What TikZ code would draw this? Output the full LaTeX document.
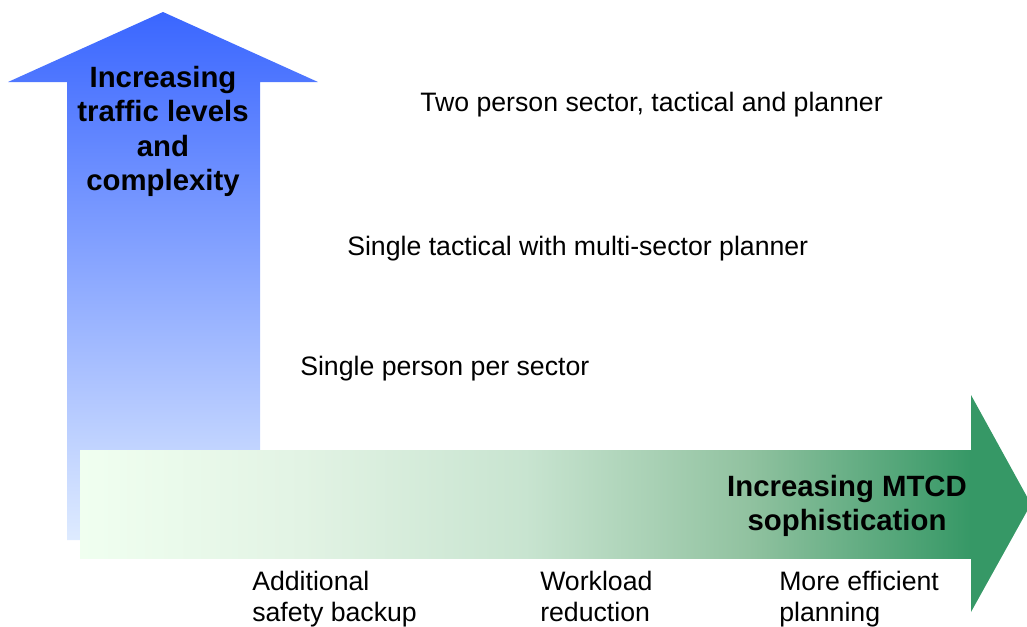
\documentclass[tikz,border=0pt]{standalone}
\usepackage{fontspec}
\setmainfont{Liberation Sans}
\begin{document}
\definecolor{bluetop}{RGB}{58,102,255}
\definecolor{bluebot}{RGB}{222,235,255}
\definecolor{greenA}{RGB}{240,255,240}
\definecolor{greenB}{RGB}{226,243,228}
\definecolor{greenC}{RGB}{200,228,208}
\definecolor{greenD}{RGB}{145,194,160}
\definecolor{greendark}{RGB}{54,152,102}
% light-to-dark green ramp along the shaft
\pgfdeclarehorizontalshading{greenramp}{100bp}{%
  color(0bp)=(greenA); color(25bp)=(greenA); color(37.5bp)=(greenB);
  color(50bp)=(greenC); color(62.5bp)=(greenD); color(75bp)=(greendark);
  color(100bp)=(greendark)}
\begin{tikzpicture}[x=0.75pt,y=-0.75pt,
  bodytext/.style={inner sep=0pt,font=\fontsize{20}{23.25}\selectfont,align=left},
  boldtext/.style={inner sep=0pt,font=\bfseries\fontsize{22}{25.8}\selectfont,align=center}]
  \useasboundingbox (0,0) rectangle (1027,626);
  % vertical arrow: traffic levels
  \shade[top color=bluetop,bottom color=bluebot]
    (163,12) -- (318,82) -- (260,82) -- (260,540) -- (67,540) -- (67,82) -- (8,82) -- cycle;
  % horizontal arrow: MTCD sophistication
  \shade[shading=greenramp] (80,450) rectangle (971,558);
  \fill[greendark] (971,395) -- (1031,504) -- (971,612) -- cycle;
  \node[boldtext] (up) at (163,131.5) {Increasing\\traffic levels\\and\\complexity};
  \node[boldtext] (right) at (847,506) {Increasing MTCD\\sophistication};
  % operating modes
  \node[bodytext,anchor=base west] (two) at (420,111) {Two person sector, tactical and planner};
  \node[bodytext,anchor=base west] (multi) at (347,255) {Single tactical with multi-sector planner};
  \node[bodytext,anchor=base west] (single) at (300,375) {Single person per sector};
  % benefits
  \node[bodytext,anchor=north west] (safety) at (252,571) {Additional\\safety backup};
  \node[bodytext,anchor=north west] (workload) at (540,571) {Workload\\reduction};
  \node[bodytext,anchor=north west] (planning) at (779,571) {More efficient\\planning};
\end{tikzpicture}
\end{document}
